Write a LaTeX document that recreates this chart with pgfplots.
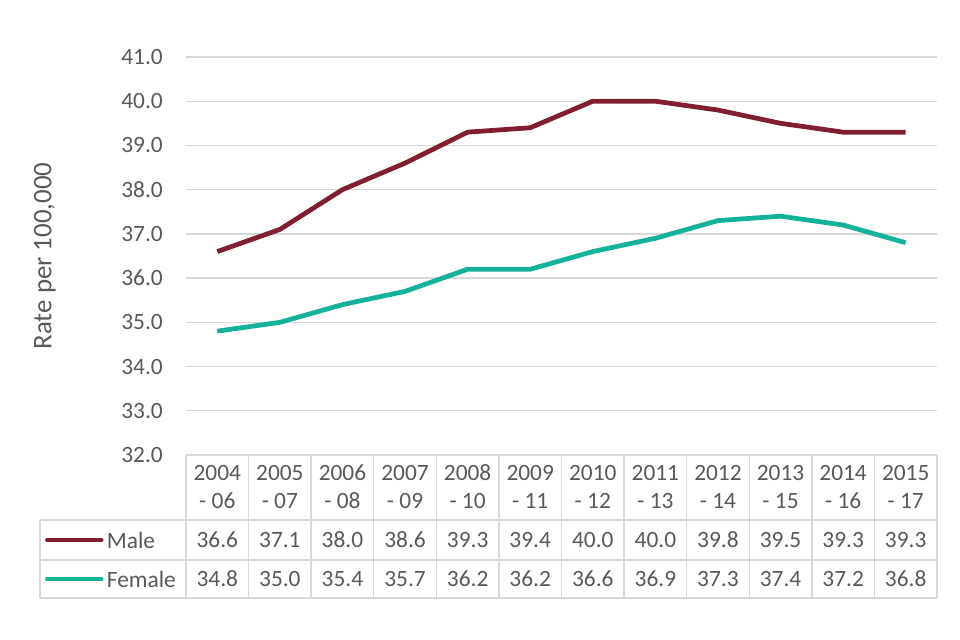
\documentclass[border=0pt]{standalone}
\usepackage{pgfplots}
\pgfplotsset{compat=1.18}
\usepackage{pgfplotstable}
\usepackage{fontspec}
\setmainfont{Carlito}
\definecolor{male}{RGB}{128,30,50}
\definecolor{female}{RGB}{20,178,152}
\definecolor{txt}{RGB}{89,89,89}
\definecolor{gridc}{RGB}{217,217,217}

\pgfplotstableread{
x male female
0 36.6 34.8
1 37.1 35.0
2 38.0 35.4
3 38.6 35.7
4 39.3 36.2
5 39.4 36.2
6 40.0 36.6
7 40.0 36.9
8 39.8 37.3
9 39.5 37.4
10 39.3 37.2
11 39.3 36.8
}\rates

\newcommand{\tfont}{\fontsize{13.3}{16.3}\selectfont}

\begin{document}
\tfont
\begin{tikzpicture}
\path[use as bounding box] (0,0) rectangle (19.2cm,12.8cm);
\begin{axis}[
  at={(3.72cm,3.7cm)}, anchor=south west,
  scale only axis, width=15.02cm, height=7.96cm,
  xmin=-0.5, xmax=11.5, ymin=32, ymax=41,
  ytick={32,33,...,41},
  xtick={0,...,11},
  xticklabels={{\strut2004\\\strut- 06},{\strut2005\\\strut- 07},{\strut2006\\\strut- 08},{\strut2007\\\strut- 09},{\strut2008\\\strut- 10},{\strut2009\\\strut- 11},{\strut2010\\\strut- 12},{\strut2011\\\strut- 13},{\strut2012\\\strut- 14},{\strut2013\\\strut- 15},{\strut2014\\\strut- 16},{\strut2015\\\strut- 17}},
  /pgf/number format/assume math mode=true,
  yticklabel={\pgfmathprintnumber[fixed,fixed zerofill,precision=1]{\tick}},
  tick label style={text=txt, font=\tfont},
  xticklabel style={align=center, anchor=north, inner sep=0pt, yshift=-2.8pt},
  yticklabel style={anchor=east, inner sep=0pt, xshift=-13pt},
  major tick length=0pt,
  axis line style={draw=none},
  ymajorgrids, grid style={gridc, line width=0.8pt},
  ylabel={Rate per 100,000},
  ylabel style={at={(axis description cs:-0.188,0.5)}, anchor=center, text=txt, font=\fontsize{15.3}{18}\selectfont},
  clip=false,
]
% data table grid
\pgfplotsinvokeforeach{-0.5,0.5,1.5,2.5,3.5,4.5,5.5,6.5,7.5,8.5,9.5,10.5,11.5}{
  \draw[gridc, line width=0.8pt] (axis cs:#1,32) -- (axis cs:#1,28.765);
}
\draw[gridc, line width=0.8pt] (axis cs:-2.833,30.529) -- (axis cs:11.5,30.529);
\draw[gridc, line width=0.8pt] (axis cs:-2.833,29.624) -- (axis cs:11.5,29.624);
\draw[gridc, line width=0.8pt] (axis cs:-2.833,28.765) -- (axis cs:11.5,28.765);
\draw[gridc, line width=0.8pt] (axis cs:-2.833,30.529) -- (axis cs:-2.833,28.765);
% legend keys
\draw[male, line width=2.3pt, line cap=round] (axis cs:-2.72,30.077) -- (axis cs:-1.85,30.077);
\node[anchor=west, text=txt, inner sep=0pt, font=\tfont] at (axis cs:-1.77,30.077) {Male};
\draw[female, line width=2.3pt, line cap=round] (axis cs:-2.72,29.195) -- (axis cs:-1.85,29.195);
\node[anchor=west, text=txt, inner sep=0pt, font=\tfont] at (axis cs:-1.77,29.195) {Female};
% lines
\addplot[male, line width=2.7pt] table[x=x, y=male]{\rates};
\addplot[female, line width=2.7pt] table[x=x, y=female]{\rates};
% table values
\addplot[draw=none, mark=none, point meta=explicit,
  nodes near coords={\pgfmathprintnumber[fixed,fixed zerofill,precision=1]{\pgfplotspointmeta}},
  nodes near coords align=center,
  every node near coord/.append style={text=txt, anchor=center, font=\tfont}]
  table[x=x, y expr=30.077, meta=male]{\rates};
\addplot[draw=none, mark=none, point meta=explicit,
  nodes near coords={\pgfmathprintnumber[fixed,fixed zerofill,precision=1]{\pgfplotspointmeta}},
  nodes near coords align=center,
  every node near coord/.append style={text=txt, anchor=center, font=\tfont}]
  table[x=x, y expr=29.195, meta=female]{\rates};
\end{axis}
\end{tikzpicture}
\end{document}
